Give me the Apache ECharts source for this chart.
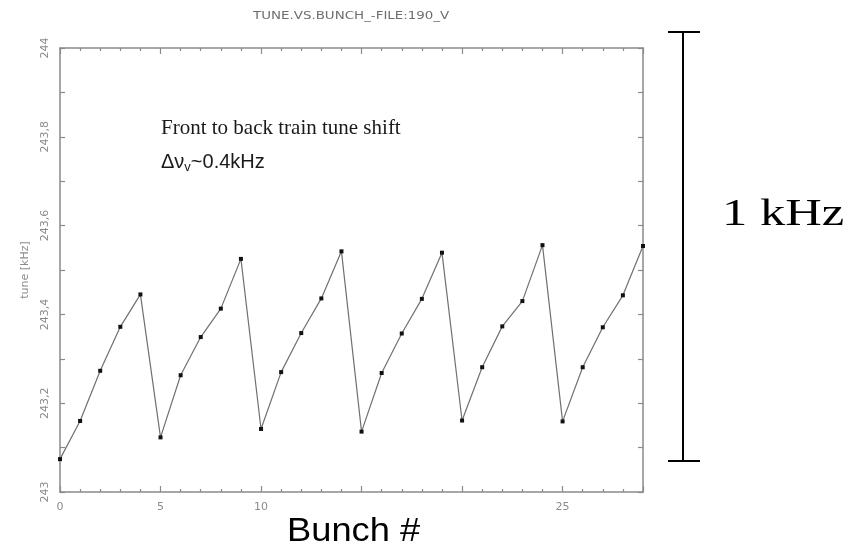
<!DOCTYPE html>
<html>
<head>
<meta charset="utf-8">
<script src="https://cdn.jsdelivr.net/npm/echarts@6/dist/echarts.min.js"></script>
<style>
  html, body { margin: 0; padding: 0; background: #ffffff; }
  #chart { width: 859px; height: 546px; }
</style>
</head>
<body>
<div id="chart"></div>
<script>
// Bunch number along the train
const bunches = [0, 1, 2, 3, 4, 5, 6, 7, 8, 9,
                 10, 11, 12, 13, 14, 15, 16, 17, 18, 19,
                 20, 21, 22, 23, 24, 25, 26, 27, 28, 29];

// Measured vertical tune per bunch [kHz]
const tuneKHz = [243.074, 243.160, 243.273, 243.372, 243.445,
                 243.123, 243.263, 243.349, 243.413, 243.525,
                 243.142, 243.270, 243.358, 243.436, 243.542,
                 243.136, 243.268, 243.357, 243.435, 243.539,
                 243.161, 243.281, 243.373, 243.430, 243.556,
                 243.159, 243.281, 243.371, 243.443, 243.554];

// Axis tick labels
const xTickLabels = ['0', '5', '10', '', '', '25'];
const yTickLabels = ['243', '243,2', '243,4', '243,6', '243,8', '244'];

const points = bunches.map((b, i) => [b, tuneKHz[i]]);

const frameColor = '#8a8a8a';
const labelColor = '#8c8c8c';

function frameAxis(extra) {
  return Object.assign({
    type: 'value',
    axisLine: { show: true, onZero: false, lineStyle: { color: frameColor, width: 1.5 } },
    axisTick: { show: true, inside: true, length: 5, lineStyle: { color: frameColor, width: 1.2 } },
    minorTick: { show: true, length: 3, lineStyle: { color: frameColor, width: 1.2 } },
    splitLine: { show: false },
    axisLabel: { show: false }
  }, extra);
}

const chart = echarts.init(document.getElementById('chart'), null, { renderer: 'canvas' });

chart.setOption({
  animation: false,
  backgroundColor: '#ffffff',
  grid: { left: 60, right: 216, top: 48, bottom: 54 },
  xAxis: [
    frameAxis({
      position: 'bottom', min: 0, max: 29, interval: 5,
      axisTick: { show: true, inside: true, length: 6, lineStyle: { color: frameColor, width: 1.2 } },
      minorTick: { show: true, splitNumber: 5, length: 3, lineStyle: { color: frameColor, width: 1.2 } },
      axisLabel: {
        show: true, color: labelColor, fontSize: 11, margin: 10,
        fontFamily: 'DejaVu Sans',
        formatter: (v) => { const k = Math.round(v / 5); return xTickLabels[k] !== undefined ? xTickLabels[k] : ''; }
      }
    }),
    frameAxis({
      position: 'top', min: 0, max: 29, interval: 5,
      axisTick: { show: true, inside: true, length: 6, lineStyle: { color: frameColor, width: 1.2 } },
      minorTick: { show: true, splitNumber: 5, length: 3, lineStyle: { color: frameColor, width: 1.2 } }
    })
  ],
  yAxis: [
    frameAxis({
      position: 'left', min: 243, max: 244, interval: 0.2,
      minorTick: { show: true, splitNumber: 2, length: 5, lineStyle: { color: frameColor, width: 1.2 } },
      name: 'tune [kHz]', nameLocation: 'middle', nameRotate: 90, nameGap: 29,
      nameTextStyle: { color: labelColor, fontSize: 11, fontFamily: 'DejaVu Sans' },
      axisLabel: {
        show: true, rotate: 90, color: labelColor, fontSize: 11, margin: 9,
        fontFamily: 'DejaVu Sans',
        formatter: (v, idx) => yTickLabels[idx] !== undefined ? yTickLabels[idx] : ''
      }
    }),
    frameAxis({
      position: 'right', min: 243, max: 244, interval: 0.2,
      minorTick: { show: true, splitNumber: 2, length: 5, lineStyle: { color: frameColor, width: 1.2 } }
    })
  ],
  series: [{
    type: 'line',
    data: points,
    xAxisIndex: 0,
    yAxisIndex: 0,
    clip: false,
    symbol: 'rect',
    symbolSize: 4,
    itemStyle: { color: '#111111' },
    lineStyle: { color: '#707070', width: 1.2 }
  }],
  graphic: [
    {
      type: 'text', left: 253, top: 11,
      style: { text: 'TUNE.VS.BUNCH_-FILE:190_V', fill: '#6e6e6e', font: '10px "DejaVu Sans"' },
      scaleX: 1.34
    },
    {
      type: 'text', left: 161, top: 118,
      style: { text: 'Front to back train tune shift', fill: '#1a1a1a', font: '21px "Liberation Serif"' }
    },
    {
      type: 'text', left: 161, top: 152,
      style: {
        text: '{a|Δν}{s|v}{a|~0.4kHz}',
        rich: {
          a: { fill: '#1a1a1a', font: '20px "Liberation Sans"' },
          s: { fill: '#1a1a1a', font: '13px "Liberation Sans"', padding: [10, 0, 0, 0] }
        }
      }
    },
    {
      type: 'text', left: 287, top: 515,
      style: { text: 'Bunch #', fill: '#000000', font: '33px "Liberation Sans"' },
      scaleX: 1.1
    },
    { type: 'line', shape: { x1: 683, y1: 32, x2: 683, y2: 461 }, style: { stroke: '#000000', lineWidth: 2 } },
    { type: 'line', shape: { x1: 668, y1: 32, x2: 700, y2: 32 }, style: { stroke: '#000000', lineWidth: 2 } },
    { type: 'line', shape: { x1: 668, y1: 461, x2: 700, y2: 461 }, style: { stroke: '#000000', lineWidth: 2 } },
    {
      type: 'text', left: 722, top: 196,
      style: { text: '1 kHz', fill: '#000000', font: '38px "Liberation Serif"' },
      scaleX: 1.33
    }
  ]
});
</script>
</body>
</html>
